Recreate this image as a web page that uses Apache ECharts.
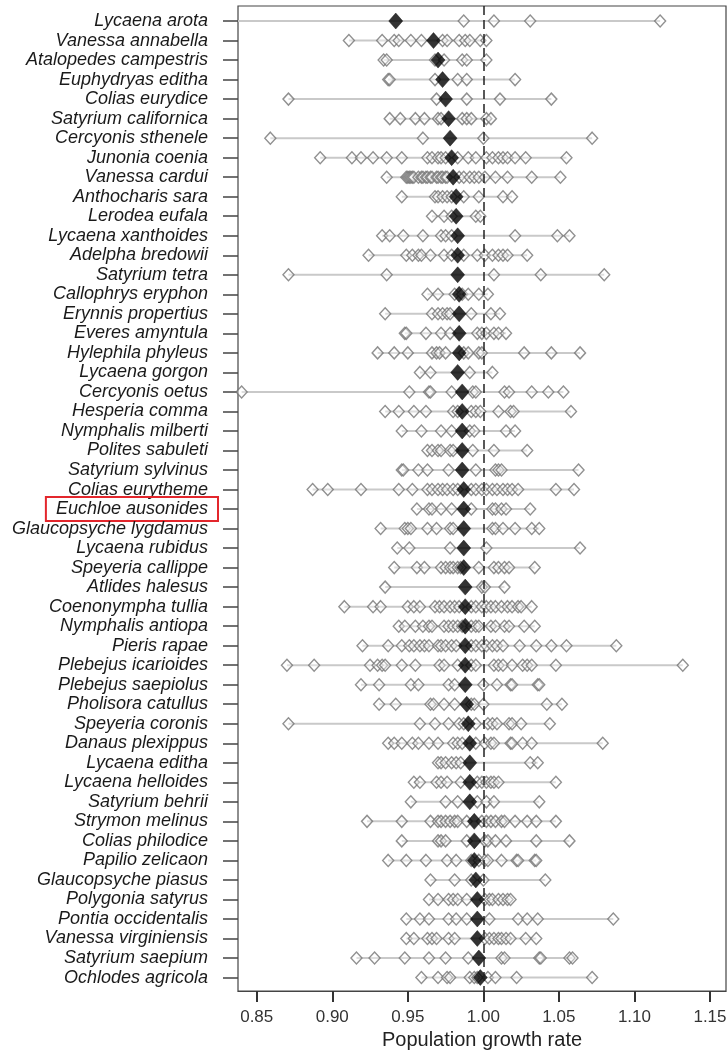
<!DOCTYPE html>
<html>
<head>
<meta charset="utf-8">
<title>Population growth rate</title>
<script src="https://cdn.jsdelivr.net/npm/echarts@6.0.0/dist/echarts.min.js"></script>
<style>
  html, body { margin: 0; padding: 0; background: #fff; }
  #chart { width: 728px; height: 1050px; }
</style>
</head>
<body>
<div id="chart"></div>
<script>
// species, top to bottom
var species = [
  "Lycaena arota", "Vanessa annabella", "Atalopedes campestris", "Euphydryas editha",
  "Colias eurydice", "Satyrium californica", "Cercyonis sthenele", "Junonia coenia",
  "Vanessa cardui", "Anthocharis sara", "Lerodea eufala", "Lycaena xanthoides",
  "Adelpha bredowii", "Satyrium tetra", "Callophrys eryphon", "Erynnis propertius",
  "Everes amyntula", "Hylephila phyleus", "Lycaena gorgon", "Cercyonis oetus",
  "Hesperia comma", "Nymphalis milberti", "Polites sabuleti", "Satyrium sylvinus",
  "Colias eurytheme", "Euchloe ausonides", "Glaucopsyche lygdamus", "Lycaena rubidus",
  "Speyeria callippe", "Atlides halesus", "Coenonympha tullia", "Nymphalis antiopa",
  "Pieris rapae", "Plebejus icarioides", "Plebejus saepiolus", "Pholisora catullus",
  "Speyeria coronis", "Danaus plexippus", "Lycaena editha", "Lycaena helloides",
  "Satyrium behrii", "Strymon melinus", "Colias philodice", "Papilio zelicaon",
  "Glaucopsyche piasus", "Polygonia satyrus", "Pontia occidentalis", "Vanessa virginiensis",
  "Satyrium saepium", "Ochlodes agricola"
];
var highlighted = "Euchloe ausonides";

// mean growth rate (black diamond)
var meanRate = [
  0.942, 0.967, 0.970, 0.973, 0.975, 0.977, 0.978, 0.979, 0.980, 0.982,
  0.982, 0.983, 0.983, 0.983, 0.984, 0.984, 0.984, 0.984, 0.983, 0.986,
  0.986, 0.986, 0.986, 0.986, 0.987, 0.987, 0.987, 0.987, 0.987, 0.988,
  0.988, 0.988, 0.988, 0.988, 0.988, 0.989, 0.990, 0.991, 0.991, 0.991,
  0.991, 0.994, 0.994, 0.994, 0.995, 0.996, 0.996, 0.996, 0.997, 0.998
];

// yearly / site estimates (open diamonds), one list per species
var siteRates = [
  [0.820, 0.987, 1.007, 1.031, 1.117],
  [0.911, 0.933, 0.941, 0.944, 0.952, 0.959, 0.973, 0.976, 0.984, 0.988, 0.991, 0.998, 1.002],
  [0.934, 0.936, 0.968, 0.974, 0.986, 0.989, 1.002],
  [0.937, 0.938, 0.968, 0.983, 0.989, 1.021],
  [0.871, 0.969, 0.989, 1.011, 1.045],
  [0.938, 0.945, 0.955, 0.961, 0.970, 0.972, 0.986, 0.989, 0.992, 1.002, 1.005],
  [0.859, 0.960, 1.000, 1.072],
  [0.892, 0.913, 0.919, 0.927, 0.936, 0.946, 0.963, 0.966, 0.970, 0.972, 0.975, 0.983, 0.990, 0.995, 1.002, 1.006, 1.010, 1.013, 1.016, 1.021, 1.028, 1.055],
  [0.936, 0.949, 0.950, 0.951, 0.952, 0.953, 0.954, 0.957, 0.959, 0.960, 0.962, 0.963, 0.965, 0.966, 0.969, 0.970, 0.972, 0.973, 0.975, 0.976, 0.984, 0.987, 0.991, 0.994, 0.997, 1.001, 1.008, 1.016, 1.032, 1.051],
  [0.946, 0.968, 0.970, 0.973, 0.976, 0.979, 0.987, 0.997, 1.013, 1.019],
  [0.966, 0.974, 0.979, 0.995, 0.998],
  [0.933, 0.938, 0.947, 0.960, 0.972, 0.975, 0.979, 1.021, 1.049, 1.057],
  [0.924, 0.949, 0.953, 0.957, 0.959, 0.965, 0.974, 0.979, 0.987, 0.996, 1.001, 1.006, 1.010, 1.013, 1.016, 1.029],
  [0.871, 0.936, 1.007, 1.038, 1.080],
  [0.963, 0.970, 0.981, 0.986, 0.990, 0.997, 1.003],
  [0.935, 0.966, 0.970, 0.973, 0.976, 0.978, 0.992, 1.005, 1.011],
  [0.948, 0.949, 0.962, 0.972, 0.978, 0.996, 0.999, 1.002, 1.007, 1.010, 1.015],
  [0.930, 0.941, 0.950, 0.966, 0.969, 0.971, 0.975, 0.987, 0.990, 0.997, 0.999, 1.027, 1.045, 1.064],
  [0.958, 0.965, 0.991, 1.006],
  [0.840, 0.951, 0.964, 0.965, 0.979, 0.993, 0.995, 1.014, 1.017, 1.032, 1.043, 1.053],
  [0.935, 0.944, 0.954, 0.962, 0.980, 0.983, 0.992, 0.995, 0.998, 1.010, 1.018, 1.020, 1.058],
  [0.946, 0.959, 0.972, 0.979, 0.991, 0.994, 1.015, 1.021],
  [0.963, 0.966, 0.970, 0.972, 0.978, 0.980, 0.993, 1.007, 1.029],
  [0.946, 0.947, 0.957, 0.963, 0.977, 0.995, 1.008, 1.010, 1.012, 1.063],
  [0.887, 0.897, 0.919, 0.944, 0.953, 0.963, 0.966, 0.970, 0.973, 0.976, 0.980, 0.983, 0.992, 0.995, 0.999, 1.002, 1.006, 1.009, 1.013, 1.016, 1.019, 1.023, 1.048, 1.060],
  [0.956, 0.964, 0.966, 0.972, 0.979, 0.992, 1.006, 1.008, 1.012, 1.015, 1.031],
  [0.932, 0.948, 0.950, 0.952, 0.963, 0.969, 0.978, 0.980, 1.006, 1.008, 1.013, 1.021, 1.032, 1.037],
  [0.943, 0.951, 0.978, 1.002, 1.064],
  [0.941, 0.956, 0.961, 0.972, 0.975, 0.978, 0.980, 0.983, 0.985, 0.997, 1.007, 1.010, 1.014, 1.017, 1.034],
  [0.935, 0.999, 1.001, 1.014],
  [0.908, 0.927, 0.932, 0.950, 0.954, 0.958, 0.968, 0.971, 0.974, 0.978, 0.981, 0.984, 0.992, 0.995, 0.999, 1.002, 1.005, 1.008, 1.012, 1.016, 1.019, 1.023, 1.025, 1.032],
  [0.944, 0.948, 0.955, 0.960, 0.964, 0.966, 0.974, 0.977, 0.980, 0.983, 0.986, 0.992, 0.995, 0.997, 1.005, 1.008, 1.014, 1.017, 1.027, 1.034],
  [0.920, 0.937, 0.946, 0.951, 0.954, 0.958, 0.961, 0.964, 0.970, 0.972, 0.975, 0.979, 0.982, 0.992, 0.995, 0.999, 1.002, 1.006, 1.009, 1.013, 1.024, 1.035, 1.045, 1.055, 1.088],
  [0.870, 0.888, 0.925, 0.930, 0.933, 0.935, 0.946, 0.955, 0.971, 0.974, 0.983, 0.992, 0.995, 1.007, 1.010, 1.013, 1.019, 1.026, 1.029, 1.032, 1.048, 1.132],
  [0.919, 0.931, 0.952, 0.957, 0.977, 0.981, 1.000, 1.009, 1.018, 1.019, 1.036, 1.037],
  [0.931, 0.942, 0.965, 0.967, 0.974, 0.981, 0.992, 0.994, 1.000, 1.042, 1.052],
  [0.871, 0.958, 0.968, 0.977, 0.984, 0.987, 0.995, 1.003, 1.006, 1.009, 1.017, 1.019, 1.025, 1.044],
  [0.937, 0.941, 0.946, 0.953, 0.957, 0.964, 0.970, 0.980, 0.983, 0.986, 0.995, 1.001, 1.005, 1.007, 1.018, 1.019, 1.026, 1.032, 1.079],
  [0.970, 0.972, 0.975, 0.979, 0.982, 0.985, 1.031, 1.036],
  [0.954, 0.958, 0.969, 0.972, 0.976, 0.985, 0.996, 0.999, 1.002, 1.005, 1.007, 1.010, 1.048],
  [0.952, 0.975, 0.983, 0.996, 1.002, 1.007, 1.037],
  [0.923, 0.946, 0.965, 0.970, 0.972, 0.975, 0.978, 0.981, 0.983, 0.989, 0.999, 1.002, 1.005, 1.008, 1.012, 1.014, 1.021, 1.029, 1.035, 1.048],
  [0.946, 0.970, 0.972, 0.975, 0.989, 1.001, 1.003, 1.008, 1.015, 1.035, 1.057],
  [0.937, 0.949, 0.962, 0.976, 0.982, 0.992, 0.997, 1.001, 1.003, 1.012, 1.022, 1.023, 1.034, 1.035],
  [0.965, 0.981, 0.992, 1.000, 1.041],
  [0.964, 0.970, 0.977, 0.980, 0.983, 0.989, 1.001, 1.004, 1.006, 1.010, 1.013, 1.016, 1.018],
  [0.949, 0.958, 0.964, 0.977, 0.982, 0.989, 1.004, 1.023, 1.029, 1.036, 1.086],
  [0.949, 0.954, 0.963, 0.966, 0.969, 0.977, 0.981, 1.001, 1.004, 1.007, 1.010, 1.012, 1.015, 1.018, 1.028, 1.035],
  [0.916, 0.928, 0.948, 0.964, 0.975, 0.990, 1.012, 1.014, 1.037, 1.038, 1.057, 1.059],
  [0.959, 0.970, 0.976, 0.978, 0.991, 0.994, 0.996, 1.003, 1.008, 1.022, 1.072]
];

var rowIndex = species.map(function (s, i) { return i; });

var sitePoints = [];
var ranges = [];
siteRates.forEach(function (list, i) {
  list.forEach(function (v) { sitePoints.push([v, i]); });
  var all = list.concat([meanRate[i]]);
  ranges.push([Math.min.apply(null, all), Math.max.apply(null, all), i]);
});
var meanPoints = meanRate.map(function (v, i) { return [v, i]; });

var chart = echarts.init(document.getElementById("chart"));

chart.setOption({
  animation: false,
  textStyle: { fontFamily: "Liberation Sans, Arial, sans-serif" },
  grid: {
    left: 238,
    right: 2,
    top: 6,
    bottom: 59,
    outerBoundsMode: "none",
    containLabel: false,
    show: true,
    borderColor: "#444",
    borderWidth: 1.2,
  },
  xAxis: {
    type: "value",
    min: 0.8376,
    max: 1.1606,
    name: "Population growth rate",
    nameLocation: "middle",
    nameGap: 37,
    nameTextStyle: { fontSize: 20, color: "#222" },
    axisLine: { show: true, onZero: false, lineStyle: { color: "#444", width: 1.2 } },
    // ticks land on 0.85, 0.90 ... 1.15 on their own
    axisTick: {
      show: true,
      length: 11,
      lineStyle: { color: "#333", width: 2 },
    },
    axisLabel: {
      fontSize: 17,
      color: "#333",
      margin: 18,
      showMinLabel: false,
      showMaxLabel: false,
      formatter: function (v) { return v.toFixed(2); },
    },
    splitLine: { show: false },
  },
  yAxis: {
    type: "value",
    inverse: true,
    min: -0.77,
    max: 49.69,
    axisLine: { show: false, onZero: false },
    axisTick: {
      show: true,
      customValues: rowIndex,
      length: 15,
      lineStyle: { color: "#444", width: 1.5 },
    },
    axisLabel: {
      customValues: rowIndex,
      margin: 20,
      formatter: function (v) {
        var name = species[v];
        return (name === highlighted ? "{hl|" : "{n|") + name + "}";
      },
      rich: {
        n: {
          fontSize: 18,
          fontStyle: "italic",
          fontFamily: "Liberation Sans, Arial, sans-serif",
          color: "#1a1a1a",
          padding: [3, 10, 3, 10],
        },
        hl: {
          fontSize: 18,
          fontStyle: "italic",
          fontFamily: "Liberation Sans, Arial, sans-serif",
          color: "#1a1a1a",
          padding: [3, 10, 3, 10],
          borderColor: "#e3262c",
          borderWidth: 2,
        },
      },
    },
    splitLine: { show: false },
  },
  series: [
    {
      // grey range line per species
      type: "custom",
      data: ranges,
      z: 1,
      renderItem: function (params, api) {
        var y = api.value(2);
        var p1 = api.coord([api.value(0), y]);
        var p2 = api.coord([api.value(1), y]);
        var cs = params.coordSys;
        var x1 = Math.max(p1[0], cs.x);
        var x2 = Math.min(p2[0], cs.x + cs.width);
        return {
          type: "line",
          shape: { x1: x1, y1: p1[1], x2: x2, y2: p2[1] },
          style: { stroke: "#c9c9c9", lineWidth: 2 },
        };
      },
    },
    {
      type: "scatter",
      data: sitePoints,
      symbol: "diamond",
      symbolSize: [11, 12],
      z: 2,
      clip: true,
      itemStyle: {
        color: "rgba(255,255,255,0.5)",
        borderColor: "#747474",
        borderWidth: 1.4,
      },
      markLine: {
        silent: true,
        symbol: "none",
        label: { show: false },
        lineStyle: { color: "#222", type: [9, 5], width: 1.5 },
        data: [{ xAxis: 1 }],
      },
    },
    {
      type: "scatter",
      data: meanPoints,
      symbol: "diamond",
      symbolSize: [14, 16],
      z: 3,
      itemStyle: { color: "#000", borderColor: "#000", borderWidth: 0.5 },
    },
  ],
});
</script>
</body>
</html>
